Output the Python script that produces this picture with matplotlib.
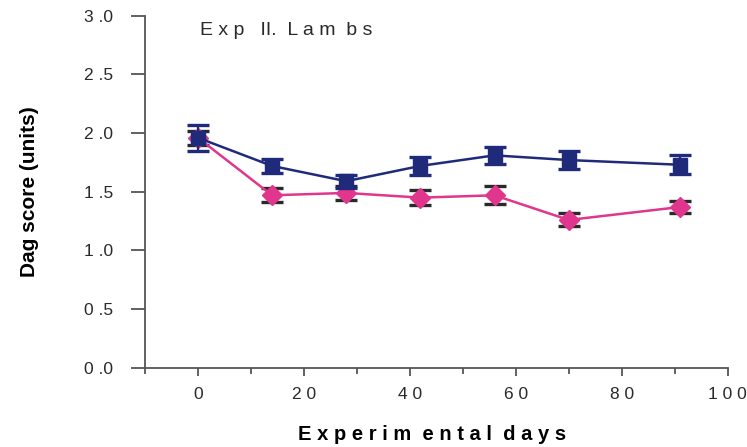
import matplotlib
matplotlib.use("Agg")
import matplotlib.pyplot as plt

plt.rcParams['font.family'] = ['Liberation Sans', 'DejaVu Sans']

# sampling days and dag scores (mean +/- se)
days = [0, 14, 28, 42, 56, 70, 91]
score_a = [1.96, 1.72, 1.59, 1.72, 1.81, 1.77, 1.73]
err_a = [0.11, 0.06, 0.055, 0.08, 0.07, 0.075, 0.08]
score_b = [1.96, 1.47, 1.49, 1.45, 1.47, 1.26, 1.37]
err_b = [0.06, 0.06, 0.06, 0.065, 0.075, 0.055, 0.055]

xticks = [0, 20, 40, 60, 80, 100]
yticks = [0.0, 0.5, 1.0, 1.5, 2.0, 2.5, 3.0]

navy = '#1f2a7a'
pink = '#e0368e'

fig = plt.figure(figsize=(7.47, 4.47), dpi=100)
ax = fig.add_axes([0.194, 0.177, 0.78, 0.788])

ax.errorbar(days, score_b, yerr=err_b, color=pink, lw=1.8, marker='D',
            ms=10, mfc=pink, mec=pink, ecolor='#2a2a2a', elinewidth=1.6,
            capsize=8, capthick=2.4, zorder=3)
ax.errorbar(days, score_a, yerr=err_a, color=navy, lw=1.8, marker='s',
            ms=9.5, mfc=navy, mec=navy, ecolor=navy, elinewidth=1.6,
            capsize=8, capthick=2.4, zorder=4)

ax.set_xlim(-10, 100)
ax.set_ylim(0, 3.0)

def spaced(s):
    return ' '.join(s)

ax.set_xticks(xticks)
ax.set_xticklabels([spaced(str(t)) for t in xticks], fontsize=12.5, color='#2a2a2a')
ax.set_xticks(range(-10, 101, 10), minor=True)
ax.set_yticks(yticks)
ax.set_yticklabels(['%d .%d' % (int(t), round(t * 10) % 10) for t in yticks],
                   fontsize=12.5, color='#2a2a2a')

for side in ['top', 'right']:
    ax.spines[side].set_visible(False)
for side in ['left', 'bottom']:
    ax.spines[side].set_color('#555555')
    ax.spines[side].set_linewidth(1.3)

ax.tick_params(axis='both', which='both', color='#555555', width=1.3)
ax.tick_params(axis='y', length=10, pad=13)
ax.tick_params(axis='x', which='major', length=6, pad=8)
ax.tick_params(axis='x', which='minor', length=4)

ax.text(0.094, 0.982, 'E x p   II.  L a m  b s', transform=ax.transAxes,
        fontsize=14, color='#2a2a2a', va='top')

fig.text(0.579, 0.016, 'E x p e r i m  e n t a l  d a y s', fontsize=14.5,
         fontweight='bold', ha='center', va='baseline')
fig.text(0.04, 0.572, 'Dag score (units)', rotation=90, fontsize=15,
         fontweight='bold', ha='center', va='center')

fig.savefig('out.png', dpi=100, facecolor='white')
